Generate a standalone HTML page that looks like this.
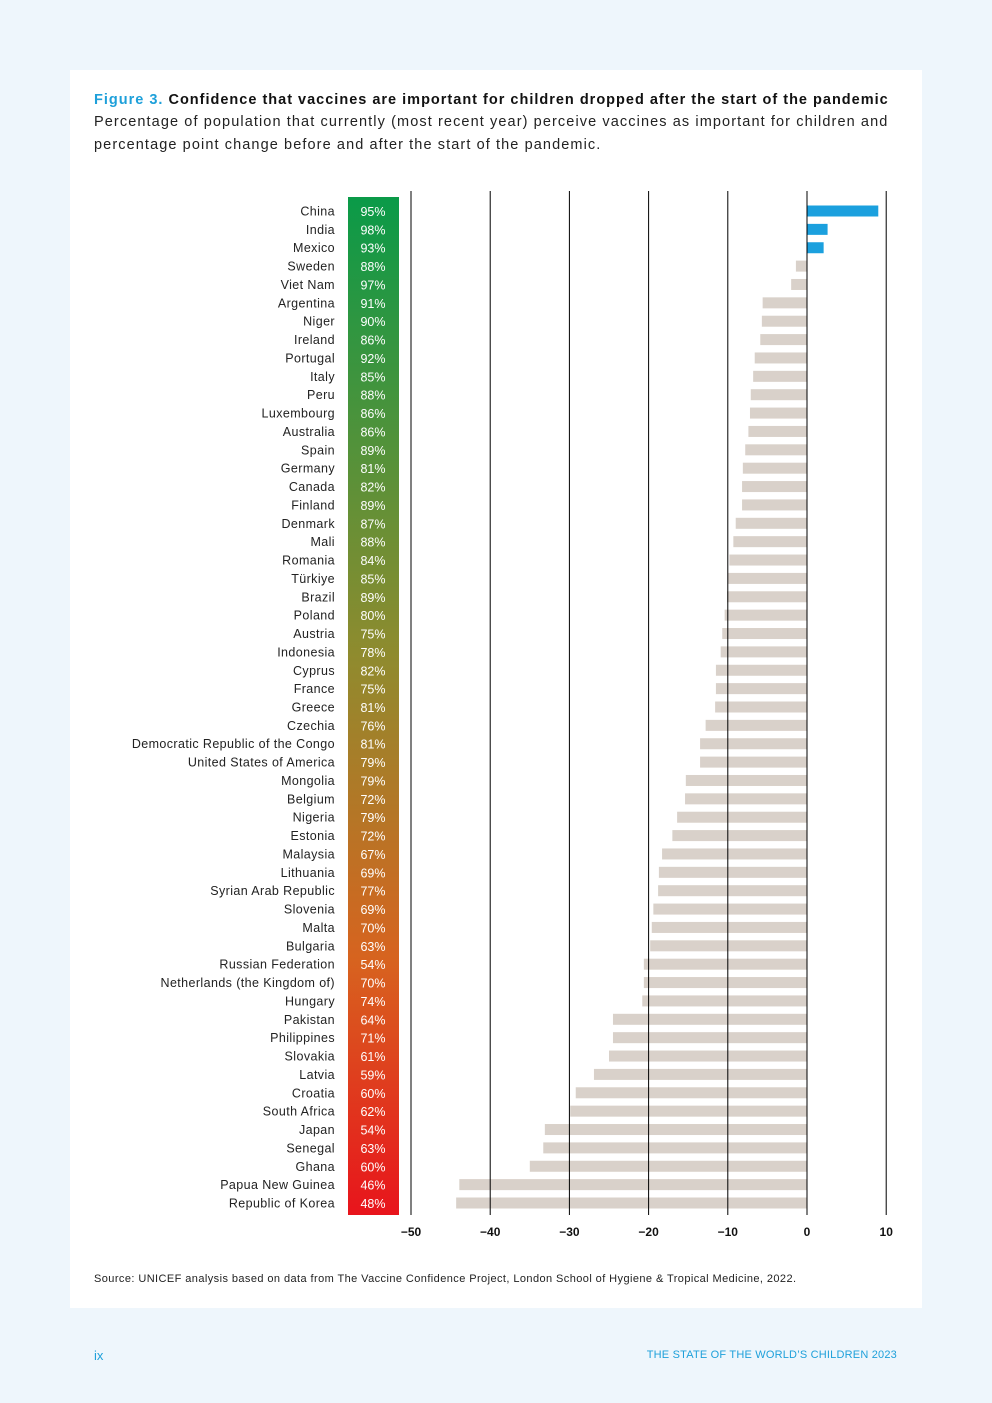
<!DOCTYPE html>
<html><head><meta charset="utf-8"><style>
body{margin:0;background:#eef6fc;width:992px;height:1403px;position:relative;font-family:"Liberation Sans",Arial,sans-serif;}
#card{position:absolute;left:70px;top:70px;width:852px;height:1238px;background:#fff;}
.t{position:absolute;left:94px;color:#111;}
</style></head><body>
<div id="card"></div>
<div class="t" style="top:92px;font-size:14.5px;font-weight:bold;letter-spacing:1.0px;white-space:nowrap"><span style="color:#1ea0da">Figure 3.</span> Confidence that vaccines are important for children dropped after the start of the pandemic</div>
<div class="t" style="top:111px;font-size:14.5px;line-height:23px;width:840px;letter-spacing:1.1px;color:#222;white-space:nowrap">Percentage of population that currently (most recent year) perceive vaccines as important for children and<br>percentage point change before and after the start of the pandemic.</div>
<svg id="chart" width="992" height="1403" style="position:absolute;left:0;top:0">
<defs><linearGradient id="g" x1="0" y1="0" x2="0" y2="1"><stop offset="0" stop-color="#0a9a48"/><stop offset="0.45" stop-color="#8f8b2e"/><stop offset="0.75" stop-color="#d7631f"/><stop offset="1" stop-color="#e8141c"/></linearGradient></defs>
</svg>
<div class="t" style="top:1273px;font-size:11px;color:#222;letter-spacing:0.42px;white-space:nowrap">Source: UNICEF analysis based on data from The Vaccine Confidence Project, London School of Hygiene &amp; Tropical Medicine, 2022.</div>
<div style="position:absolute;left:94px;top:1348px;font-size:13px;color:#1ea0da">ix</div>
<div style="position:absolute;right:95px;top:1349px;font-size:11px;color:#1ea0da;letter-spacing:0.2px">THE STATE OF THE WORLD’S CHILDREN 2023</div>
<script>
const countries=["China","India","Mexico","Sweden","Viet Nam","Argentina","Niger","Ireland","Portugal","Italy","Peru","Luxembourg","Australia","Spain","Germany","Canada","Finland","Denmark","Mali","Romania","Türkiye","Brazil","Poland","Austria","Indonesia","Cyprus","France","Greece","Czechia","Democratic Republic of the Congo","United States of America","Mongolia","Belgium","Nigeria","Estonia","Malaysia","Lithuania","Syrian Arab Republic","Slovenia","Malta","Bulgaria","Russian Federation","Netherlands (the Kingdom of)","Hungary","Pakistan","Philippines","Slovakia","Latvia","Croatia","South Africa","Japan","Senegal","Ghana","Papua New Guinea","Republic of Korea"];
const confidence=[95,98,93,88,97,91,90,86,92,85,88,86,86,89,81,82,89,87,88,84,85,89,80,75,78,82,75,81,76,81,79,79,72,79,72,67,69,77,69,70,63,54,70,74,64,71,61,59,60,62,54,63,60,46,48];
const change=[9.0,2.6,2.1,-1.4,-2.0,-5.6,-5.7,-5.9,-6.6,-6.8,-7.1,-7.2,-7.4,-7.8,-8.1,-8.2,-8.2,-9.0,-9.3,-9.8,-10.0,-10.1,-10.4,-10.7,-10.9,-11.5,-11.5,-11.6,-12.8,-13.5,-13.5,-15.3,-15.4,-16.4,-17.0,-18.3,-18.7,-18.8,-19.4,-19.6,-19.8,-20.6,-20.6,-20.8,-24.5,-24.5,-25.0,-26.9,-29.2,-29.9,-33.1,-33.3,-35.0,-43.9,-44.3];
const ticks=[-50,-40,-30,-20,-10,0,10];
const tickLabels=["−50","−40","−30","−20","−10","0","10"];
const svg=document.getElementById('chart');const NS="http://www.w3.org/2000/svg";
const x=v=>807+v*7.92;
const y=i=>211+i*(992/54);
function mk(t,a){const e=document.createElementNS(NS,t);for(const k in a)e.setAttribute(k,a[k]);svg.appendChild(e);return e;}
const col=mk('rect',{x:348,y:197,width:51,height:1018,fill:'url(#g)'});


countries.forEach((c,i)=>{
 const yy=y(i);
 const n=mk('text',{x:335,y:yy+4.5,'text-anchor':'end','font-size':12.5,fill:'#222','letter-spacing':0.4});
 n.textContent=c;
 
 
 const p=mk('text',{x:373,y:yy+5,'text-anchor':'middle','font-size':12.5,fill:'#fff'});
 p.textContent=confidence[i]+'%';
 
 
 const v=change[i];
 const b=mk('rect',{x:Math.min(x(v),x(0)),y:yy-5.5,width:Math.abs(x(v)-x(0)),height:11,fill:v>0?'#1ba0de':'#d9d1ca'});
 
 
});
ticks.forEach((t,i)=>{
 const l=mk('line',{x1:x(t),x2:x(t),y1:191,y2:1215,stroke:'#000','stroke-width':1});
 
 
 const tx=mk('text',{x:x(t),y:1236,'text-anchor':'middle','font-size':12,'font-weight':'bold',fill:'#111'});
 tx.textContent=tickLabels[i];
 
 
});
</script>
</body></html>
